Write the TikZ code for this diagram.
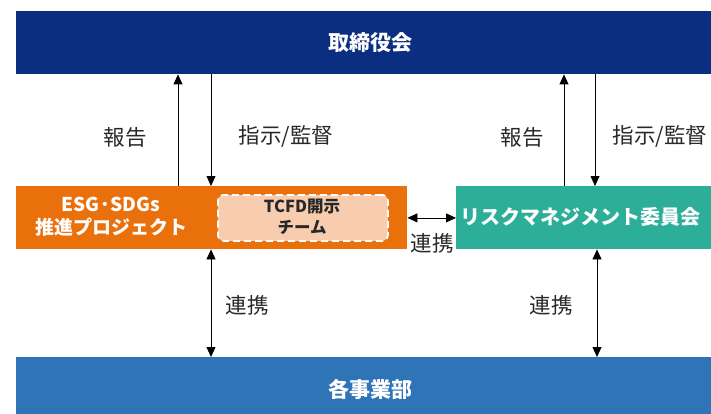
\documentclass[tikz,border=0pt]{standalone}
\usepackage{fontspec}
\setmainfont{Noto Sans CJK JP}
\usetikzlibrary{arrows.meta,calc}
\definecolor{navy}{RGB}{12,46,128}
\definecolor{orng}{RGB}{234,112,12}
\definecolor{peach}{RGB}{248,204,174}
\definecolor{teal2}{RGB}{44,174,152}
\definecolor{bizblue}{RGB}{46,116,182}
\definecolor{txt}{RGB}{40,40,40}
\tikzset{
  bar/.style={draw=none, anchor=north west, inner sep=0pt},
  bartxt/.style={text=white, inner sep=0pt, font=\fontsize{21}{24}\selectfont\bfseries},
  lbl/.style={text=txt, inner sep=0pt, font=\fontsize{21.5}{24}\selectfont},
  arr/.style={-{Triangle[length=10pt,width=9pt]}, line width=0.8pt, draw=black},
  darr/.style={{Triangle[length=10pt,width=9pt]}-{Triangle[length=10pt,width=9pt]}, line width=0.8pt, draw=black},
}
\begin{document}
\begin{tikzpicture}[x=1pt,y=-1pt]
\useasboundingbox[fill=white] (0,0) rectangle (711,414);
% boxes
\node[bar, fill=navy, minimum width=695pt, minimum height=63pt] (top) at (16,11) {};
\node[bartxt] (toptxt) at (370,43) {取締役会};
\node[bar, fill=orng, minimum width=391pt, minimum height=63pt] (esg) at (16,186) {};
\node[text=white, align=center, inner sep=0pt, font=\fontsize{19}{23}\selectfont\bfseries] (esgtxt) at (111,217) {ESG·SDGs\\推進プロジェクト};
\node[draw=white, dash pattern=on 7pt off 4pt, line width=1.8pt, rounded corners=6pt, fill=peach, anchor=north west,
  minimum width=170pt, minimum height=46pt, inner sep=0pt] (tcfd) at (217,194) {};
\node[text=txt, align=center, inner sep=0pt, font=\fontsize{16.5}{21}\selectfont\bfseries] (tcfdtxt) at (302,217) {TCFD開示\\チーム};
\node[bar, fill=teal2, minimum width=255pt, minimum height=63pt] (risk) at (456,186) {};
\node[bartxt, font=\fontsize{20}{24}\selectfont\bfseries] (risktxt) at (580,217) {リスクマネジメント委員会};
\node[bar, fill=bizblue, minimum width=695pt, minimum height=57pt] (biz) at (16,357) {};
\node[bartxt] (biztxt) at (370,389) {各事業部};
% x positions
\coordinate (xa) at (178,0);
\coordinate (xb) at (211,0);
\coordinate (xc) at (564,0);
\coordinate (xd) at (595,0);
\coordinate (xe) at (597,0);
% arrows top
\draw[arr] (esg.north -| xa) -- (top.south -| xa);
\draw[arr] (top.south -| xb) -- (esg.north -| xb);
\draw[arr] (risk.north -| xc) -- (top.south -| xc);
\draw[arr] (top.south -| xd) -- (risk.north -| xd);
% bottom
\draw[darr] (esg.south -| xb) -- (biz.north -| xb);
\draw[darr] (risk.south -| xe) -- (biz.north -| xe);
% horizontal
\draw[darr] (esg.east |- tcfd.center) -- (risk.west |- tcfd.center);
% labels
\node[lbl] (l1) at (125,137) {報告};
\node[lbl] (l2) at (286,136) {指示/監督};
\node[lbl] (l3) at (522,137) {報告};
\node[lbl] (l4) at (660,136) {指示/監督};
\node[lbl] (l5) at (432,243) {連携};
\node[lbl] (l6) at (247,305) {連携};
\node[lbl] (l7) at (551,305) {連携};
\end{tikzpicture}
\end{document}
